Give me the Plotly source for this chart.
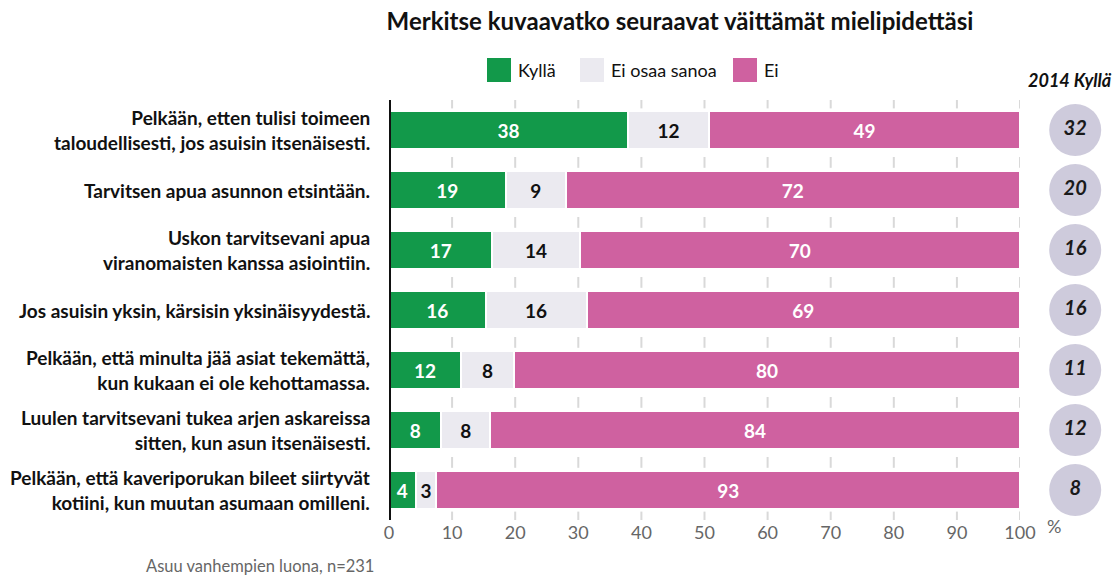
import plotly.graph_objects as go

FONT = "Lato, Roboto, sans-serif"

categories = [
    "Pelkään, etten tulisi toimeen<br>taloudellisesti, jos asuisin itsenäisesti.",
    "Tarvitsen apua asunnon etsintään.",
    "Uskon tarvitsevani apua<br>viranomaisten kanssa asiointiin.",
    "Jos asuisin yksin, kärsisin yksinäisyydestä.",
    "Pelkään, että minulta jää asiat tekemättä,<br>kun kukaan ei ole kehottamassa.",
    "Luulen tarvitsevani tukea arjen askareissa<br>sitten, kun asun itsenäisesti.",
    "Pelkään, että kaveriporukan bileet siirtyvät<br>kotiini, kun muutan asumaan omilleni.",
]
kylla = [37.9, 18.5, 16.4, 15.3, 11.4, 8.3, 4.2]
eos = [12.8, 9.5, 13.8, 16.0, 8.4, 7.7, 3.3]
ei = [49.3, 72.0, 69.8, 68.7, 80.2, 84.0, 92.5]
kylla_lbl = [38, 19, 17, 16, 12, 8, 4]
eos_lbl = [12, 9, 14, 16, 8, 8, 3]
ei_lbl = [49, 72, 70, 69, 80, 84, 93]
kylla_2014 = [32, 20, 16, 16, 11, 12, 8]
x_ticks = [0, 10, 20, 30, 40, 50, 60, 70, 80, 90, 100]

GREEN = "#12994a"
GREY = "#ebeaf0"
PINK = "#cf61a0"
CIRCLE = "#cecbdc"

W, H = 1118, 578
L, R, T, B = 389, 6, 100, 58
PW = W - L - R
PH = H - T - B


def px(x):
    return (x - L) / PW


def py(y):
    return (H - B - y) / PH


ypos = list(range(len(categories)))
n = len(categories)

fig = go.Figure()
for vals, lbls, col, tcol, name in [
    (kylla, kylla_lbl, GREEN, "white", "Kyllä"),
    (eos, eos_lbl, GREY, "#111111", "Ei osaa sanoa"),
    (ei, ei_lbl, PINK, "white", "Ei"),
]:
    fig.add_trace(go.Bar(
        y=ypos, x=vals, orientation="h", name=name,
        marker=dict(color=col, line=dict(color="white", width=2)),
        text=[str(v) for v in lbls], textposition="inside",
        insidetextanchor="middle", textangle=0,
        textfont=dict(family=FONT, size=19, color=tcol, weight="bold"),
        width=0.62, showlegend=False, hoverinfo="skip",
    ))

fig.add_trace(go.Scatter(
    y=ypos, x=[0.6] * n, xaxis="x2", mode="markers+text",
    marker=dict(size=52, color=CIRCLE),
    text=[str(v) for v in kylla_2014], textposition="middle center",
    textfont=dict(family=FONT, size=20, color="#1a1a1a", weight="bold", style="italic"),
    cliponaxis=False, showlegend=False, hoverinfo="skip",
))

shapes = []
for t in x_ticks[1:]:
    for k in range(n + 1):
        g = k - 0.5
        if k == 0:
            y0, y1 = -0.5, -0.36
        elif k == n:
            y0, y1 = n - 0.64, n - 0.5
        else:
            y0, y1 = g - 0.05, g + 0.13
        shapes.append(dict(type="line", xref="x", yref="y", x0=t, x1=t, y0=y0, y1=y1,
                           line=dict(color="#d9d9d9", width=2), layer="below"))
shapes.append(dict(type="line", xref="x", yref="y", x0=0, x1=0, y0=-0.5, y1=n - 0.35,
                   line=dict(color="#111111", width=4)))

annotations = []
for i, c in enumerate(categories):
    annotations.append(dict(x=0, y=i, xref="x", yref="y", text=c, showarrow=False,
                            xanchor="right", yanchor="middle", xshift=-17, align="right",
                            font=dict(family=FONT, size=19, color="#111111", weight="bold")))

legend_items = [("Kyllä", GREEN), ("Ei osaa sanoa", GREY), ("Ei", PINK)]
legend_x = [487, 580, 733]
for (name, col), lx in zip(legend_items, legend_x):
    shapes.append(dict(type="rect", xref="paper", yref="paper",
                       x0=px(lx), x1=px(lx + 24), y0=py(82), y1=py(58),
                       fillcolor=col, line=dict(width=0)))
    annotations.append(dict(x=px(lx + 29), y=py(70), xref="paper", yref="paper",
                            text=name, showarrow=False, xanchor="left", yanchor="middle",
                            font=dict(family=FONT, size=18, color="#111111")))

annotations.append(dict(x=px(1070), y=py(80), xref="paper", yref="paper",
                        text="2014 Kyllä", showarrow=False, xanchor="center", yanchor="middle",
                        font=dict(family=FONT, size=18, color="#111111", weight="bold", style="italic")))
annotations.append(dict(x=px(1045), y=py(526), xref="paper", yref="paper", text="%", showarrow=False,
                        xanchor="left", yanchor="middle",
                        font=dict(family=FONT, size=18, color="#666666")))
annotations.append(dict(x=px(376), y=py(566), xref="paper", yref="paper",
                        text="Asuu vanhempien luona, n=231", showarrow=False,
                        xanchor="right", yanchor="middle",
                        font=dict(family=FONT, size=16.5, color="#666666")))

fig.update_layout(
    width=W, height=H, autosize=False,
    margin=dict(l=L, r=R, t=T, b=B, autoexpand=False),
    plot_bgcolor="white", paper_bgcolor="white",
    barmode="stack", bargap=0.38,
    title=dict(text="<b>Merkitse kuvaavatko seuraavat väittämät mielipidettäsi</b>",
               x=680 / W, xanchor="center", y=1 - 22 / H, yanchor="middle",
               font=dict(family=FONT, size=24, color="#111111")),
    xaxis=dict(domain=[0, px(1020)], range=[0, 100], tickvals=x_ticks, showgrid=False,
               zeroline=False, showline=False, ticks="", automargin=False,
               tickfont=dict(family=FONT, size=18, color="#666666"), fixedrange=True),
    xaxis2=dict(domain=[px(1020), 1], range=[0, 1], anchor="y", visible=False,
                automargin=False, fixedrange=True),
    yaxis=dict(range=[n - 0.5, -0.5], showticklabels=False, showgrid=False, automargin=False,
               zeroline=False, showline=False, fixedrange=True),
    shapes=shapes, annotations=annotations,
    uniformtext=dict(minsize=19, mode="show"),
)

fig.write_html("out.html", config={"displayModeBar": False, "responsive": False},
               post_script="document.body.style.margin='0';document.body.style.overflow='hidden';")
